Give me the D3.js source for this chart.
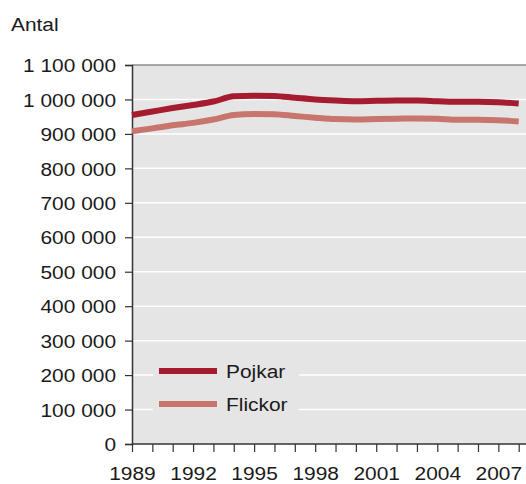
<!DOCTYPE html>
<html>
<head>
<meta charset="utf-8">
<script src="https://cdn.jsdelivr.net/npm/d3@7"></script>
<style>
  body { margin: 0; background: #fff; }
  text { font-family: "Liberation Sans", Arial, sans-serif; fill: #1a1a1a; }
</style>
</head>
<body>
<script>
var years = d3.range(1989, 2009);

// antal barn 0-17 år
var pojkar = [955000, 965000, 975000, 984000, 994000, 1009000, 1011000, 1010000, 1005000, 1000000,
              997000, 995000, 996000, 997000, 997000, 995000, 993000, 993000, 992000, 988000];
var flickor = [908000, 916000, 925000, 932000, 942000, 955000, 958000, 957000, 952000, 947000,
               943000, 942000, 943000, 944000, 945000, 944000, 941000, 941000, 940000, 936000];

var yTicks = d3.range(0, 1100001, 100000);
var xLabelYears = [1989, 1992, 1995, 1998, 2001, 2004, 2007];

var series = [
    { name: 'Pojkar', values: pojkar, color: '#a51b30' },
    { name: 'Flickor', values: flickor, color: '#c8756e' }
];

var _width = 526,
    _height = 484,
    _left = 132,
    _right = 526,
    _top = 65,
    _bottom = 444,
    _stretch = 1.1,
    _fontSize = 19;

var fmt = d3.formatLocale({ decimal: ',', thousands: ' ', grouping: [3], currency: ['', ''] }).format(',d');

var x = d3.scaleLinear().domain([1989, 2008]).range([_left, 518.7]);
var y = d3.scaleLinear().domain([0, 1100000]).range([_bottom, _top]);

var svg = d3.select('body').append('svg')
    .attr('width', _width)
    .attr('height', _height);

// widen text slightly like the reference
var stretchText = function(sel){
    sel.style('font-size', _fontSize + 'px')
        .attr('transform', 'scale(' + _stretch + ',1)');
};

svg.append('rect')
    .attr('x', _left).attr('y', _top)
    .attr('width', _right - _left).attr('height', _bottom - _top)
    .attr('fill', '#e5e5e5');

svg.append('g').selectAll('line').data(yTicks.filter(function(d){ return d > 0 && d < 1100000; }))
    .enter().append('line')
    .attr('x1', _left).attr('x2', _right)
    .attr('y1', function(d){ return y(d); })
    .attr('y2', function(d){ return y(d); })
    .attr('stroke', '#fff')
    .attr('stroke-width', 1.5);

svg.append('line')
    .attr('x1', _left).attr('x2', _right)
    .attr('y1', _top).attr('y2', _top)
    .attr('stroke', '#8c8c8c')
    .attr('stroke-width', 1.5);

// y axis
var yAxis = svg.append('g')
    .attr('transform', 'translate(' + _left + ',0)')
    .call(d3.axisLeft(y).tickValues(yTicks).tickSize(7).tickPadding(9).tickFormat(fmt));
yAxis.select('.domain').attr('stroke', '#333').attr('stroke-width', 1.5);
yAxis.selectAll('.tick line').attr('stroke', '#333').attr('stroke-width', 1.2);
yAxis.selectAll('.tick text')
    .attr('x', -16 / _stretch)
    .attr('dy', '0.35em')
    .call(stretchText);

// x axis
var xAxis = svg.append('g')
    .attr('transform', 'translate(0,' + _bottom + ')')
    .call(d3.axisBottom(x).tickValues(years).tickSize(8).tickSizeOuter(0)
        .tickFormat(function(d){ return xLabelYears.indexOf(d) >= 0 ? d : ''; }));
xAxis.select('.domain').attr('stroke', '#333').attr('stroke-width', 1.5)
    .attr('d', 'M' + _left + ',0H' + _right);
xAxis.selectAll('.tick line').attr('stroke', '#333').attr('stroke-width', 1.2);
xAxis.selectAll('.tick text')
    .attr('y', 36)
    .attr('dy', 0)
    .call(stretchText);
xAxis.selectAll('.tick').each(function(){
    var t = d3.select(this);
    var tx = +t.attr('transform').match(/translate\(([^,]+)/)[1];
    t.attr('transform', 'translate(' + (tx / 1) + ',0)');
    t.select('text').attr('x', 0);
});
xAxis.attr('font-family', null).attr('font-size', null);
yAxis.attr('font-family', null).attr('font-size', null);

// lines
var line = d3.line()
    .x(function(d, i){ return x(years[i]); })
    .y(function(d){ return y(d); })
    .curve(d3.curveMonotoneX);

svg.append('g').selectAll('path').data(series.slice().reverse())
    .enter().append('path')
    .attr('d', function(d){ return line(d.values); })
    .attr('fill', 'none')
    .attr('stroke', function(d){ return d.color; })
    .attr('stroke-width', 6)
    .attr('stroke-linejoin', 'round');

// legend
var legend = svg.append('g');
legend.append('rect')
    .attr('x', 153).attr('y', 352)
    .attr('width', 146).attr('height', 72)
    .attr('fill', '#e5e5e5');

var items = legend.selectAll('.item').data(series)
    .enter().append('g')
    .attr('class', 'item')
    .attr('transform', function(d, i){ return 'translate(0,' + (371 + i * 33) + ')'; });
items.append('line')
    .attr('x1', 159).attr('x2', 217)
    .attr('stroke', function(d){ return d.color; })
    .attr('stroke-width', 6);
items.append('text')
    .attr('x', 226 / _stretch)
    .attr('dy', '0.35em')
    .text(function(d){ return d.name; })
    .call(stretchText);

svg.append('text')
    .attr('x', 11 / _stretch)
    .attr('y', 31)
    .text('Antal')
    .call(stretchText);
</script>
</body>
</html>
